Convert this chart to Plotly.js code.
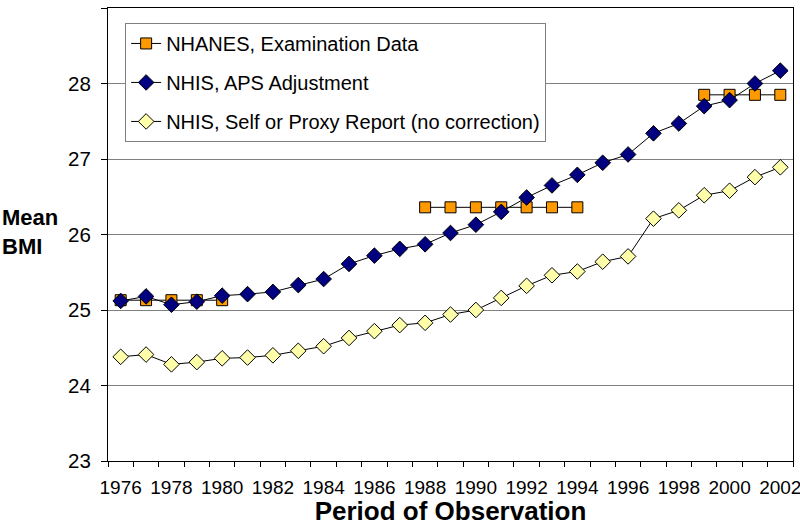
<!DOCTYPE html>
<html>
<head>
<meta charset="utf-8">
<script src="https://cdn.plot.ly/plotly-3.0.1.min.js"></script>
<style>
  html, body { margin: 0; padding: 0; background: #fff; }
  #chart { width: 800px; height: 526px; }
</style>
</head>
<body>
<div id="chart"></div>
<script>
const years = [1976, 1977, 1978, 1979, 1980, 1981, 1982, 1983, 1984, 1985, 1986, 1987, 1988, 1989,
               1990, 1991, 1992, 1993, 1994, 1995, 1996, 1997, 1998, 1999, 2000, 2001, 2002];

// NHANES exam waves (null = no survey that year)
const nhanes = [25.13, 25.13, 25.13, 25.13, 25.13, null, null, null, null, null, null, null,
                26.36, 26.36, 26.36, 26.36, 26.36, 26.36, 26.36, null, null, null, null,
                27.85, 27.85, 27.85, 27.85];

const nhisAps = [25.12, 25.18, 25.07, 25.11, 25.19, 25.21, 25.24, 25.33, 25.41, 25.61, 25.72, 25.81,
                 25.87, 26.02, 26.13, 26.30, 26.49, 26.65, 26.79, 26.95, 27.06, 27.34, 27.47,
                 27.70, 27.78, 28.00, 28.17];

const nhisSelf = [24.38, 24.41, 24.28, 24.31, 24.36, 24.37, 24.40, 24.46, 24.52, 24.63, 24.72, 24.80,
                  24.83, 24.94, 25.00, 25.16, 25.32, 25.46, 25.51, 25.64, 25.71, 26.21, 26.32,
                  26.52, 26.58, 26.76, 26.89];

const xTicks = years.filter(y => y % 2 === 0);

const font = 'Liberation Sans, Arial, sans-serif';

const traces = [
    {
        x: years, y: nhanes, name: 'NHANES, Examination Data', legendgroup: 'a',
        type: 'scatter', mode: 'lines+markers', connectgaps: false,
        line: { color: '#000000', width: 1 },
        marker: { symbol: 'square', size: 11, color: '#FF9900', line: { color: '#000000', width: 1 } }
    },
    {
        x: years, y: nhisAps, name: 'NHIS, APS Adjustment', legendgroup: 'b',
        type: 'scatter', mode: 'lines+markers',
        line: { color: '#000000', width: 1 },
        marker: { symbol: 'diamond', size: 12, color: '#000080', line: { color: '#000000', width: 1 } }
    },
    {
        x: years, y: nhisSelf, name: 'NHIS, Self or Proxy Report (no correction)', legendgroup: 'c',
        type: 'scatter', mode: 'lines+markers',
        line: { color: '#000000', width: 1 },
        marker: { symbol: 'diamond', size: 12, color: '#FFFFAA', line: { color: '#000000', width: 1 } }
    }
];

const layout = {
    width: 800,
    height: 526,
    margin: { l: 108, r: 7, t: 8, b: 65 },
    paper_bgcolor: '#ffffff',
    plot_bgcolor: '#ffffff',
    font: { family: font, size: 20, color: '#000000' },
    showlegend: true,
    legend: {
        x: 0.025, y: 0.967, xanchor: 'left', yanchor: 'top',
        bgcolor: '#ffffff', bordercolor: '#808080', borderwidth: 1,
        font: { family: font, size: 20, color: '#000000' },
        tracegroupgap: 10,
        traceorder: 'grouped'
    },
    xaxis: {
        type: 'linear',
        range: [1975.5, 2002.5],
        tickvals: xTicks,
        ticktext: xTicks.map(String),
        ticks: '',
        ticklabeloverflow: 'allow',
        ticklabelstandoff: 9,
        showgrid: false,
        zeroline: false,
        showline: true, linecolor: '#000000', linewidth: 1, mirror: true,
        tickfont: { family: font, size: 19, color: '#000000' },
        minor: { tick0: 1975.5, dtick: 1, ticks: 'outside', ticklen: 5, tickcolor: '#000000', showgrid: false },
        title: { text: '<b>Period of Observation</b>', font: { family: font, size: 26, color: '#000000' }, standoff: 6 }
    },
    yaxis: {
        range: [23, 29],
        dtick: 1,
        ticks: 'outside', ticklen: 6, tickcolor: '#000000',
        ticklabelstandoff: 6,
        showgrid: true, gridcolor: '#808080', gridwidth: 1,
        zeroline: false,
        showline: true, linecolor: '#000000', linewidth: 1, mirror: true,
        tickfont: { family: font, size: 20.5, color: '#000000' }
    },
    annotations: [{
        xref: 'paper', yref: 'paper', x: -0.158, y: 0.505,
        xanchor: 'left', yanchor: 'middle', align: 'left', showarrow: false,
        text: '<b>Mean<br>BMI</b>',
        font: { family: font, size: 22, color: '#000000' }
    }]
};

Plotly.newPlot('chart', traces, layout, { displayModeBar: false, staticPlot: true });
</script>
</body>
</html>
